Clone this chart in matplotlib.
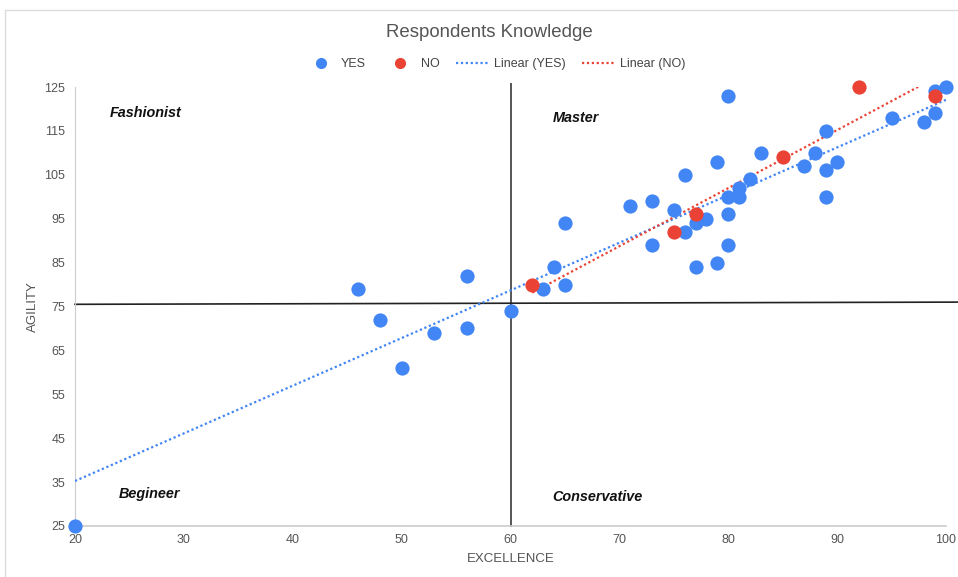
import matplotlib.pyplot as plt
import numpy as np
from matplotlib.lines import Line2D
from matplotlib.patches import Rectangle

plt.rcParams['font.family'] = ['Liberation Sans', 'DejaVu Sans']

# respondents who answered YES
yes_excellence = [20, 46, 48, 50, 53, 56, 56, 60, 63, 64, 65, 65, 71, 73, 73, 75,
                  76, 76, 77, 77, 78, 79, 79, 80, 80, 80, 80, 81, 81, 82, 83, 87,
                  88, 89, 89, 89, 90, 95, 98, 99, 99, 100]
yes_agility = [25, 79, 72, 61, 69, 82, 70, 74, 79, 84, 80, 94, 98, 99, 89, 97,
               105, 92, 94, 84, 95, 108, 85, 123, 100, 96, 89, 102, 100, 104, 110, 107,
               110, 115, 106, 100, 108, 118, 117, 124, 119, 125]

# respondents who answered NO
no_excellence = [62, 75, 77, 85, 92, 99]
no_agility = [80, 92, 96, 109, 125, 123]

# quadrant dividers
split_x = 60
split_y = [75.5, 76.0]
quadrant_names = ['Fashionist', 'Master', 'Begineer', 'Conservative']
quadrant_pos = [(23.2, 119), (63.9, 118), (24, 32.3), (63.8, 31.6)]

blue = '#4285F4'
red = '#EA4335'
text_gray = '#555555'

fig = plt.figure(figsize=(9.58, 5.77), dpi=100)
ax = fig.add_axes([0.0783, 0.0884, 0.9092, 0.7608])

# card outline
fig.patches.append(Rectangle((5 / 958, -0.1), 1.2, 1.1 - 10 / 577, transform=fig.transFigure,
                             fill=False, edgecolor='#dcdcdc', linewidth=1))

ax.set_xlim(20, 100)
ax.set_ylim(25, 125)

# quadrant lines
ax.plot([split_x, split_x], [25, 125.6], color='#555555', linewidth=1.4, clip_on=False, zorder=2)
ax.plot([20, 101.1], split_y, color='#222222', linewidth=1.2, clip_on=False, zorder=2)

# linear trendlines
def trend(xs, ys, color):
    k, b = np.polyfit(xs, ys, 1)
    xx = np.linspace(min(xs), max(xs), 200)
    ax.plot(xx, k * xx + b, color=color, linestyle=(0, (1, 1.2)), linewidth=1.6, zorder=3)

trend(yes_excellence, yes_agility, blue)
trend(no_excellence, no_agility, red)

ax.scatter(yes_excellence, yes_agility, s=105, color=blue, linewidths=0, zorder=4, clip_on=False)
ax.scatter(no_excellence, no_agility, s=105, color=red, linewidths=0, zorder=5, clip_on=False)

for name, (qx, qy) in zip(quadrant_names, quadrant_pos):
    ax.text(qx, qy, name, fontsize=10.4, fontweight='bold', fontstyle='italic',
            ha='left', va='center', color='#111111')

for side in ['top', 'right']:
    ax.spines[side].set_visible(False)
ax.spines['left'].set_color('#cccccc')
ax.spines['bottom'].set_color('#cccccc')
ax.spines['bottom'].set_linewidth(1.2)

ax.set_xticks(np.arange(20, 101, 10))
ax.set_yticks(np.arange(25, 126, 10))
ax.tick_params(length=0, labelsize=9, labelcolor=text_gray)
ax.tick_params(axis='x', pad=6)
ax.tick_params(axis='y', pad=7)

ax.set_xlabel('EXCELLENCE', fontsize=9.5, color=text_gray, labelpad=5)
ax.set_ylabel('AGILITY', fontsize=9.5, color=text_gray, labelpad=4)

fig.text(0.511, 0.943, 'Respondents Knowledge', ha='center', va='center',
         fontsize=13.4, color=text_gray)

handles = [
    Line2D([], [], marker='o', linestyle='none', markersize=7, color=blue),
    Line2D([], [], marker='o', linestyle='none', markersize=7, color=red),
    Line2D([], [], color=blue, linestyle=(0, (1, 1.2)), linewidth=1.6),
    Line2D([], [], color=red, linestyle=(0, (1, 1.2)), linewidth=1.6),
]
fig.legend(handles, ['YES', 'NO', 'Linear (YES)', 'Linear (NO)'], loc='center',
           bbox_to_anchor=(0.516, 0.889), ncol=4, frameon=False, fontsize=9,
           labelcolor='#444444', handlelength=2.7, columnspacing=1.35, handletextpad=0.3)

fig.savefig('out.png', dpi=100)
